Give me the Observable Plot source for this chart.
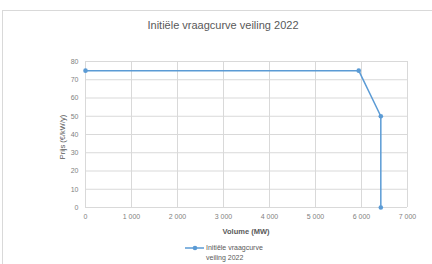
<!DOCTYPE html>
<html><head><meta charset="utf-8">
<script src="https://cdn.jsdelivr.net/npm/d3@7"></script>
<script src="https://cdn.jsdelivr.net/npm/@observablehq/plot@0.6"></script>
<style>
body{margin:0;background:#fff;font-family:"Liberation Sans",Arial,sans-serif;}
#wrap{position:relative;width:432px;height:264px;overflow:hidden;}
#frame{position:absolute;left:2px;top:10px;width:440px;height:270px;border:1px solid #d9d9d9;box-sizing:border-box;}
.t{position:absolute;white-space:nowrap;color:#595959;}
</style></head><body>
<div id="wrap">
<div id="frame"></div>
<div id="chart" style="position:absolute;left:0;top:0"></div>
<div class="t" id="title" style="left:0;width:446px;text-align:center;top:19px;font-size:11px;">Initiële vraagcurve veiling 2022</div>
<div class="t" id="ylab" style="left:62px;top:137px;font-size:7.5px;transform:translate(-50%,-50%) rotate(-90deg);">Prijs (€/kW/y)</div>
<div class="t" id="xlab" style="left:246px;top:231px;font-size:7.5px;font-weight:bold;transform:translate(-50%,-50%);">Volume (MW)</div>
<div id="legend" style="position:absolute;left:185px;top:243px;">
  <svg width="20" height="10" style="position:absolute;left:0;top:0"><line x1="0" y1="5" x2="19" y2="5" stroke="#5b9bd5" stroke-width="1.5"/><circle cx="10" cy="5" r="2.3" fill="#5b9bd5"/></svg>
  <div class="t" style="left:21px;top:0;font-size:7px;line-height:10px;">Initiële vraagcurve<br>veiling 2022</div>
</div>
</div>
<script>
const volume = [0, 5940, 6420, 6420];
const prijs = [75, 75, 50, 0];
const xTicks = [0, 1000, 2000, 3000, 4000, 5000, 6000, 7000];
const yTicks = [0, 10, 20, 30, 40, 50, 60, 70, 80];
const seriesName = "Initiële vraagcurve veiling 2022";

const data = volume.map((v, i) => ({volume: v, prijs: prijs[i]}));
const fmt = d => d3.format(",")(d).replace(/,/g, " ");
const gray = "#d9d9d9";

const plot = Plot.plot({
  width: 432, height: 264,
  marginLeft: 85, marginRight: 25, marginTop: 61, marginBottom: 57,
  style: {fontFamily: "Liberation Sans, Arial, sans-serif", fontSize: "7px", color: "#7f7f7f", background: "transparent"},
  x: {domain: [0, 7000], ticks: xTicks, tickFormat: fmt, label: null},
  y: {domain: [0, 80], ticks: yTicks, label: null},
  marks: [
    Plot.gridX(xTicks, {stroke: gray, strokeOpacity: 1, strokeWidth: 1}),
    Plot.gridY(yTicks, {stroke: gray, strokeOpacity: 1, strokeWidth: 1}),
    Plot.axisX({ticks: xTicks, tickFormat: fmt, tickSize: 0, tickPadding: 7, label: null, fill: "#7f7f7f"}),
    Plot.axisY({ticks: yTicks, tickSize: 0, tickPadding: 7, label: null, fill: "#7f7f7f"}),
    Plot.line(data, {x: "volume", y: "prijs", stroke: "#5b9bd5", strokeWidth: 1.5}),
    Plot.dot(data, {x: "volume", y: "prijs", r: 2.3, fill: "#5b9bd5", stroke: "none"})
  ]
});
document.getElementById("chart").appendChild(plot);
</script>
</body></html>
